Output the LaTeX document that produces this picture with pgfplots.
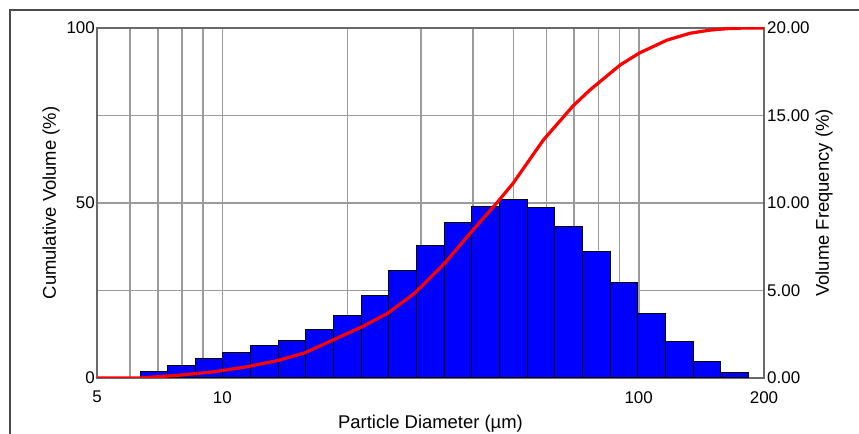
\documentclass[border=0pt]{standalone}
\usepackage{pgfplots}
\pgfplotsset{compat=1.18}
\usepackage{fontspec}
\setmainfont{Liberation Sans}
\definecolor{gridgray}{RGB}{155,155,155}
\definecolor{axgray}{RGB}{105,105,105}
\definecolor{framegray}{RGB}{75,75,75}
\definecolor{barblue}{RGB}{0,0,255}
\begin{document}
\begin{tikzpicture}[x=1bp,y=1bp]
\useasboundingbox (0,0) rectangle (859,434);
\draw[framegray, line width=1.2bp] (10,-5) -- (10,424) -- (870,424);
% Axis 1: left scale, grid
\begin{axis}[
  xmode=log, xmin=5, xmax=200,
  scale only axis, width=667bp, height=350bp,
  at={(97bp,56bp)}, anchor=south west,
  major tick length=0pt, minor tick length=0pt,
  tick label style={font=\fontsize{17}{17}\selectfont},
  /pgf/number format/assume math mode=true,
  label style={font=\fontsize{18.5}{19}\selectfont},
  axis line style={axgray, line width=1.6bp},
  ymin=0, ymax=100,
  xtick={5,10,100,200}, xticklabels={5,10,100,200},
  minor xtick={6,7,8,9,20,30,40,50,60,70,80,90},
  ytick={0,50,100}, yticklabels={0,50,100},
  minor ytick={25,75},
  grid=both,
  major grid style={gridgray, line width=1.6bp},
  minor grid style={gridgray, line width=1.6bp},
  xticklabel style={anchor=north, inner sep=0pt, yshift=-13bp},
  yticklabel style={anchor=east, inner sep=0pt, xshift=-2bp},
  ylabel style={at={(axis description cs:-0.069,0.5)}, anchor=center},
  xlabel style={at={(axis description cs:0.5,-0.143)}, anchor=base},
  ylabel={Cumulative Volume (\%)},
  xlabel={Particle Diameter (µm)},
]
\end{axis}
% Axis 2: right scale, histogram
\begin{axis}[
  xmode=log, xmin=5, xmax=200,
  scale only axis, width=667bp, height=350bp,
  at={(97bp,56bp)}, anchor=south west,
  major tick length=0pt, minor tick length=0pt,
  tick label style={font=\fontsize{17}{17}\selectfont},
  /pgf/number format/assume math mode=true,
  label style={font=\fontsize{18.5}{19}\selectfont},
  axis line style={axgray, line width=1.6bp},
  axis x line=none, axis y line*=right,
  ymin=0, ymax=20,
  ytick={0,5,10,15,20},
  yticklabel style={anchor=west, inner sep=0pt, xshift=3bp},
  y tick label style={/pgf/number format/.cd, fixed, fixed zerofill, precision=2},
  ylabel style={at={(axis description cs:1.090,0.5)}, anchor=center},
  ylabel={Volume Frequency (\%)},
]
\addplot[ybar interval, fill=barblue, draw=black, line width=1bp] coordinates {
(6.343,0.35) (7.391,0.73) (8.612,1.11) (10.034,1.47) (11.692,1.87)
(13.624,2.16) (15.875,2.75) (18.498,3.59) (21.554,4.71) (25.115,6.16)
(29.265,7.55) (34.100,8.90) (39.734,9.80) (46.298,10.18) (53.947,9.73)
(62.859,8.67) (73.245,7.21) (85.346,5.44) (99.45,3.67) (115.88,2.09)
(135.03,0.94) (157.33,0.30) (183.33,0.30)
};
\end{axis}
% Axis 3: cumulative curve
\begin{axis}[
  xmode=log, xmin=5, xmax=200,
  scale only axis, width=667bp, height=350bp,
  at={(97bp,56bp)}, anchor=south west,
  hide axis, ymin=0, ymax=100]
\addplot[red, line width=3.2bp, line join=round] coordinates {
(5.0,0) (6.343,0) (7.697,0.7) (9.430,1.7) (11.335,3.1) (13.60,5.0)
(15.79,7.2) (18.40,10.8) (21.80,14.8) (25.03,18.6) (29.02,24.3)
(34.26,32.9) (40.07,42.4) (45.61,50.0) (49.97,55.7) (59.02,68.0)
(69.65,77.8) (76.39,82.3) (90.19,89.4) (100.2,92.8) (116.75,96.5)
(132.8,98.5) (148.4,99.4) (163.0,99.8) (180.0,100) (200,100)
};
\end{axis}
\end{tikzpicture}
\end{document}
